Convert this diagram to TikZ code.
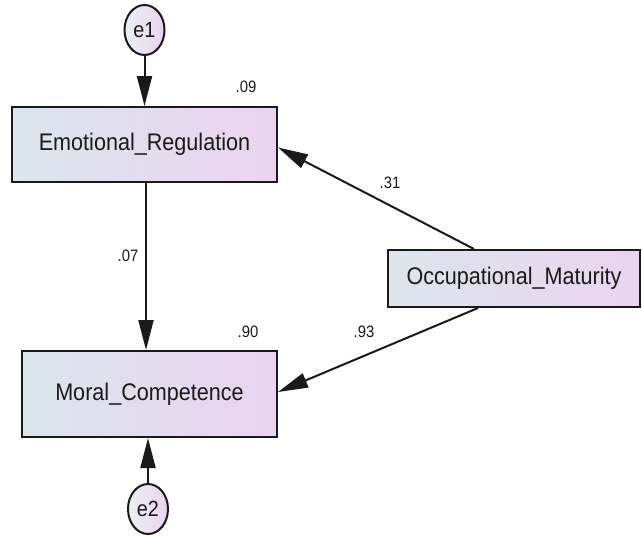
\documentclass[tikz,border=0pt]{standalone}
\usepackage{fontspec}
\setmainfont[FakeStretch=0.9]{Liberation Sans}
\usetikzlibrary{shapes.geometric, arrows.meta, positioning, calc}
\definecolor{shadeblue}{HTML}{DCE6EC}
\definecolor{shademauve}{HTML}{EAD3F0}
\definecolor{linedark}{HTML}{1A1A1A}

\begin{document}
\begin{tikzpicture}[
    x=1pt, y=-1pt,
    % ── Node styles ──────────────────────────────────────────────────────
    varbox/.style={
        draw=linedark, line width=2pt,
        left color=shadeblue, right color=shademauve,
        font=\fontsize{24}{27}\selectfont, text=linedark,
        inner sep=4pt
    },
    errnode/.style={
        ellipse, draw=linedark, line width=2pt,
        left color=shadeblue!60!white, right color=shademauve,
        minimum width=40pt, minimum height=50pt, inner sep=0pt,
        font=\fontsize{22}{25}\selectfont, text=linedark
    },
    % ── Arrow style ──────────────────────────────────────────────────────
    arr/.style={
        -{Triangle[length=30pt, width=15pt]},
        line width=2pt, color=linedark
    },
    lbl/.style={
        font=\fontsize{16.5}{18}\selectfont, text=linedark, inner sep=1pt
    }
]
\useasboundingbox (0,0) rectangle (642,539);

% ═══════════════════════════════════════════════════════════════════════════
% Observed variables
% ═══════════════════════════════════════════════════════════════════════════
\node[varbox, minimum width=265pt, minimum height=75pt] (emo) at (144.5,144.5)
    {Emotional\_Regulation};

\node[varbox, minimum width=255pt, minimum height=86pt] (moral) at (149.5,394)
    {Moral\_Competence};

\node[varbox, minimum width=252pt, minimum height=57pt] (occ) at (514,278.5)
    {Occupational\_Maturity};

% ═══════════════════════════════════════════════════════════════════════════
% Error terms
% ═══════════════════════════════════════════════════════════════════════════
\node[errnode, above=50pt of emo] (e1) {e1};
\node[errnode, below=45pt of moral, xshift=-1.5pt] (e2) {e2};

% Squared multiple correlations
\node[lbl] (r2emo) at ($(emo.north east)+(-32,-19)$) {.09};
\node[lbl] (r2moral) at ($(moral.north east)+(-30,-18)$) {.90};

% ═══════════════════════════════════════════════════════════════════════════
% Paths
% ═══════════════════════════════════════════════════════════════════════════
\draw[arr] (e1) -- (e1 |- emo.north);
\draw[arr] (e2) -- (e2 |- moral.south);

\draw[arr] ($(emo.south)+(1.5,0)$) -- ($(moral.north)+(-3.5,0)$)
    node[lbl, midway, xshift=-18pt, yshift=11pt] {.07};

\draw[arr] ($(occ.north)+(-40,0)$) -- ($(emo.east)+(0,3)$)
    node[lbl, midway, xshift=14pt, yshift=15pt] {.31};

\draw[arr] ($(occ.south)+(-36,0)$) -- ($(moral.east)+(0,-2)$)
    node[lbl, midway, xshift=-14pt, yshift=18pt] {.93};

\end{tikzpicture}
\end{document}
